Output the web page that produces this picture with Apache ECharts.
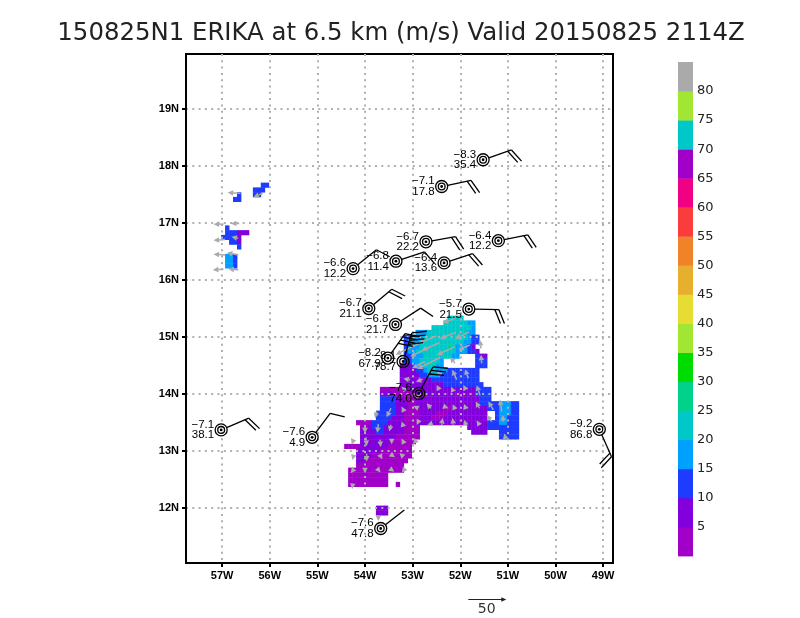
<!DOCTYPE html>
<html>
<head>
<meta charset="utf-8">
<style>
html, body { margin: 0; background: #fff; }
#chart { width: 800px; height: 618px; }
</style>
<script src="https://cdn.jsdelivr.net/npm/echarts@6/dist/echarts.min.js"></script>
</head>
<body>
<div id="chart"></div>
<script>
const titleText = '150825N1 ERIKA at 6.5 km (m/s) Valid 20150825 2114Z';

const lonTicks = [-57, -56, -55, -54, -53, -52, -51, -50, -49];
const latTicks = [12, 13, 14, 15, 16, 17, 18, 19];
const barTicks = [5, 10, 15, 20, 25, 30, 35, 40, 45, 50, 55, 60, 65, 70, 75, 80];

// one colour for each 5 m/s bin, bottom of the colour bar first
const binColors = ['#a000c8', '#8200dc', '#1e3cff', '#00a0ff', '#00c8c8', '#00d28c', '#00dc00', '#a0e632',
	'#e6dc32', '#e6af2d', '#f08228', '#fa3c3c', '#f00082', '#a000c8', '#00c8c8', '#a0e632', '#aaaaaa'];

// wind speed bin per 1/12 degree cell, '.' is no data, digit n is bin n of binColors
const mainLeftLon = -54.4375;
const mainTopLat = 15.375;
const mainRows = [
	'..........................5555',
	'.........................55555544',
	'......................55555555554',
	'..................444555555555544',
	'...............3344455555555555433',
	'...............3444555555555554433',
	'...............344455555556544432',
	'...............3445555555555444332',
	'...............33444555555544....322',
	'...............3344555554........333',
	'..............22234455544........333',
	'..............222233455444' + '33333333',
	'..............222223344433' + '33333333',
	'..............222222223333' + '33333333',
	'..............222222222223' + '333333333',
	'.........111111222222222222222222' + '3333',
	'.........222111111222222222222222' + '3333',
	'.........333322111222222222222222' + '2333',
	'.........333322211222222222222222' + '2333334' + '4433',
	'.........333322211122222211222222' + '2223334' + '4433',
	'........33333221111222211122222' + '22222..34' + '4433',
	'........33332221111222111222222' + '22222..34' + '4333',
	'...1111333322221112222222222' + '22222222' + '33344333',
	'....112333222221111.' + '..........' + '.222223333' + '3333',
	'....222233222221111.' + '..........' + '..2222...3' + '3333',
	'....222222222111111.' + '..........' + '.........3' + '3333',
	'....22222222111111',
	'11112222222111111',
	'...22222211111111',
	'...22221111111111',
	'...2211111111111',
	'...111111111111',
	'.11111111111111',
	'.1111111111',
	'.1111111111',
	'.1111111111..1',
	'', '', '', '',
	'........222',
	'........222'
];

const westLeftLon = -54.4375 - 31 / 12;
const westTopLat = 15.375 + 28 / 12;
const westRows = [
	'..........33',
	'........333.',
	'....3...33..',
	'...33.......',
	'', '', '', '', '',
	'.3..........',
	'.333222.....',
	'33332.......',
	'..332.......',
	'....3.......',
	'',
	'.443........',
	'.443........',
	'.443........'
];

// lon, lat of the tail, then u, v in m/s
const windVectors = [
	[-54.26, 12.40, -0.5, -5], [-54.245, 12.67, -3.5, -4.4], [-54.0, 12.655, 0, -3.5], [-53.72, 12.67, 3, -3.5],
	[-53.44, 12.67, 3.5, -2.6], [-53.195, 12.655, -2, -2.6],
	[-54.245, 12.90, -1.3, -4.4], [-53.965, 12.95, 0, -10], [-53.685, 12.93, 3, -5.7], [-53.44, 12.93, 4.4, -3], [-53.195, 12.90, -5, 5],
	[-54.245, 13.19, -2.2, -5.7], [-53.98, 13.24, 1, -11.4], [-53.685, 13.2, 1, -9.6], [-53.44, 13.19, 0, -5.3], [-53.195, 13.16, -2.2, 4.4], [-52.915, 13.19, -5, -5],
	[-51.04, 13.19, -2.2, 8.8],
	[-54.0, 13.46, 0, -11], [-53.72, 13.47, -1.3, -11.4], [-53.455, 13.46, -2.2, -8.8], [-53.195, 13.43, -2.2, 6.6], [-52.88, 13.515, -2.2, -4.4],
	[-52.6, 13.485, -5.7, -2.2], [-52.39, 13.46, 1.3, 8.8], [-52.145, 13.46, -1, 8.8], [-51.885, 13.46, -1.8, 6.6], [-51.6, 13.46, -3.5, 5.7],
	[-51.34, 13.515, -6.6, 8.8], [-51.095, 13.515, -1, 8.8],
	[-53.755, 13.69, -2, -8.8], [-53.455, 13.75, -5.7, -11.8], [-53.195, 13.72, -2.2, 4.4], [-52.88, 13.75, -6.6, 3], [-52.615, 13.75, -5.7, 6.6],
	[-52.34, 13.78, 5.7, -2.2], [-52.11, 13.73, -3, 6.6], [-51.885, 13.75, -2.2, 5.7], [-51.6, 13.75, -4.4, 8.8], [-51.305, 13.72, -6.6, 11], [-51.13, 13.69, -2.2, 16],
	[-52.46, 14.10, -2.2, 4.4], [-52.145, 14.04, -3, 6.6], [-51.9, 14.10, -2.2, 4.4], [-51.585, 13.98, -4.4, 13], [-53.195, 14.10, -2.2, 2.2], [-52.88, 13.95, -5.3, 3.5],
	[-53.055, 14.25, -8.8, 1.3], [-52.79, 14.26, -8.8, -3.5], [-52.39, 14.32, -6.6, 5.7], [-52.075, 14.25, -5.7, 13], [-51.83, 14.275, -4.4, 12],
	[-52.425, 14.64, -30, -15], [-52.11, 14.54, -6.6, 8], [-51.55, 14.54, -1, 11], [-52.74, 14.57, -17, -9],
	[-52.11, 14.83, -24, -11], [-51.8, 14.86, -15, -6.6], [-52.635, 14.82, -26, -12],
	[-51.81, 15.09, -19, -9], [-52.09, 15.08, -21, -8], [-52.44, 14.90, -23, -10], [-52.495, 15.02, -24, -10], [-52.86, 14.89, -31, -15], [-51.565, 14.80, -1.3, 11],
	[-52.11, 15.33, -16, -6.6],
	[-56.61, 17.52, -17, 1], [-56.15, 17.52, -12, -5], [-56.97, 16.98, -13, 0], [-56.64, 16.99, -11, 0], [-56.94, 16.71, -15, -1], [-56.66, 16.73, -9, 2],
	[-56.94, 16.44, -15, 1], [-56.66, 16.44, -15, 3], [-56.97, 16.19, -14, -1], [-56.66, 16.18, -13, 1],
	[-53.72, 11.85, 0, -6]
];

const stormLons = [-51.52, -52.39, -52.72, -51.20, -54.25, -53.35, -52.34, -53.92, -53.36, -51.82, -53.52, -53.20, -52.87, -57.02, -55.11, -53.67, -49.08];
const stormLats = [18.11, 17.64, 16.67, 16.69, 16.20, 16.33, 16.30, 15.50, 15.22, 15.49, 14.63, 14.57, 14.01, 13.37, 13.24, 11.64, 13.38];
const stormTops = ['8.3', '7.1', '6.7', '6.4', '6.6', '6.8', '6.4', '6.7', '6.8', '5.7', '8.2', '8.1', '7.6', '7.1', '7.6', '7.6', '9.2'];
const stormBottoms = ['35.4', '17.8', '22.2', '12.2', '12.2', '11.4', '13.6', '21.1', '21.7', '21.5', '67.9', '78.7', '74.0', '38.1', '4.9', '47.8', '86.8'];
const staffDirs = [71, 78, 80, 79, 51, 72, 72, 50, 57, 91, 35, 17, 28, 67, 37, 52, 156];
const featherCounts = [2, 2, 2, 2, 1, 1, 2, 2, 1, 2, 4, 4, 3, 2, 1, 0, 2];

const lonMin = -57.758, lonMax = -48.793;
const latMin = 11.035, latMax = 19.965;
const vectorScale = 0.76; // pixels per m/s, 50 m/s is the key arrow

function cellsFrom(rows, leftLon, topLat) {
	const cells = [];
	rows.forEach((row, r) => {
		for (let c = 0; c < row.length; c++) {
			if (row[c] !== '.') cells.push([leftLon + c / 12, topLat - r / 12, +row[c] - 1]);
		}
	});
	return cells;
}

function renderCell(params, api) {
	const p = api.coord([api.value(0), api.value(1)]);
	const s = api.size([1 / 12, 1 / 12]);
	return {
		type: 'rect',
		shape: { x: p[0], y: p[1], width: s[0] + 0.4, height: s[1] + 0.4 },
		style: { fill: binColors[api.value(2)] }
	};
}

function renderVector(params, api) {
	const p = api.coord([api.value(0), api.value(1)]);
	const dx = api.value(2) * vectorScale;
	const dy = -api.value(3) * vectorScale;
	const len = Math.sqrt(dx * dx + dy * dy) || 1;
	const ux = dx / len, uy = dy / len;
	// the head keeps its size, short vectors are nearly all head
	const tip = [p[0] + dx, p[1] + dy];
	const back = [tip[0] - ux * 5.5, tip[1] - uy * 5.5];
	const kids = [{
		type: 'polygon',
		shape: { points: [tip, [back[0] - uy * 2.8, back[1] + ux * 2.8], [back[0] + uy * 2.8, back[1] - ux * 2.8]] },
		style: { fill: '#aaaaaa' }
	}];
	if (len > 5.5) {
		kids.push({ type: 'line', shape: { x1: p[0], y1: p[1], x2: back[0], y2: back[1] }, style: { stroke: '#aaaaaa', lineWidth: 1.5 } });
	}
	return { type: 'group', children: kids };
}

function renderStorm(params, api) {
	const i = params.dataIndex;
	const p = api.coord([api.value(0), api.value(1)]);
	const a = staffDirs[i] * Math.PI / 180;
	const sx = Math.sin(a), sy = -Math.cos(a);
	const fa = a + 67 * Math.PI / 180;
	const fx = Math.sin(fa), fy = -Math.cos(fa);
	const black = { stroke: '#000', fill: 'none', lineWidth: 1.3 };
	const kids = [
		{ type: 'circle', shape: { cx: p[0], cy: p[1], r: 6 }, style: black },
		{ type: 'circle', shape: { cx: p[0], cy: p[1], r: 3.4 }, style: black },
		{ type: 'circle', shape: { cx: p[0], cy: p[1], r: 1.4 }, style: { fill: '#000' } },
		{ type: 'line', shape: { x1: p[0] + sx * 6, y1: p[1] + sy * 6, x2: p[0] + sx * 30, y2: p[1] + sy * 30 }, style: black }
	];
	for (let n = 0; n < featherCounts[i]; n++) {
		const bx = p[0] + sx * (30 - n * 4), by = p[1] + sy * (30 - n * 4);
		kids.push({ type: 'line', shape: { x1: bx, y1: by, x2: bx + fx * 15, y2: by + fy * 15 }, style: black });
	}
	const labelFont = '11.5px "Liberation Sans"';
	kids.push({ type: 'text', style: { text: '\u2212' + stormTops[i], x: p[0] - 7, y: p[1] - 5.3, align: 'right', verticalAlign: 'middle', font: labelFont, fill: '#000' } });
	kids.push({ type: 'text', style: { text: stormBottoms[i], x: p[0] - 7, y: p[1] + 5.3, align: 'right', verticalAlign: 'middle', font: labelFont, fill: '#000' } });
	return { type: 'group', children: kids };
}

function renderBin(params, api) {
	const lo = api.coord([0, api.value(0)]);
	const hi = api.coord([1, api.value(0) + 5]);
	return {
		type: 'rect',
		shape: { x: lo[0], y: hi[1], width: hi[0] - lo[0], height: lo[1] - hi[1] + 0.4 },
		style: { fill: binColors[params.dataIndex] }
	};
}

const dotted = { color: '#b0b0b0', width: 2, type: [2, 4.3] };
const tickFont = { fontFamily: 'Liberation Sans', fontWeight: 'bold', fontSize: 11, color: '#000' };

const chart = echarts.init(document.getElementById('chart'), null, { renderer: 'canvas' });
chart.setOption({
	animation: false,
	backgroundColor: '#fff',
	title: {
		text: titleText,
		left: 396,
		textAlign: 'center',
		top: 17,
		textStyle: { fontFamily: 'DejaVu Sans', fontWeight: 'normal', fontSize: 24.4, color: '#222' }
	},
	grid: [
		{ left: 186, right: 187, top: 54, bottom: 55, show: true, borderColor: '#000', borderWidth: 2, backgroundColor: '#fff' },
		{ left: 678, right: 107, top: 62, bottom: 62 }
	],
	xAxis: [
		{
			type: 'value', gridIndex: 0, min: lonMin, max: lonMax, z: 3,
			axisLine: { lineStyle: { color: '#000', width: 2 } },
			axisTick: { show: true, length: 4, customValues: lonTicks, lineStyle: { color: '#000', width: 2 } },
			axisLabel: { customValues: lonTicks, margin: 7, formatter: (v) => -v + 'W', ...tickFont },
			splitLine: { show: true, lineStyle: dotted }
		},
		{ type: 'value', gridIndex: 1, min: 0, max: 1, show: false }
	],
	yAxis: [
		{
			type: 'value', gridIndex: 0, min: latMin, max: latMax, z: 3,
			axisLine: { lineStyle: { color: '#000', width: 2 } },
			axisTick: { show: true, length: 4, customValues: latTicks, lineStyle: { color: '#000', width: 2 } },
			axisLabel: { customValues: latTicks, margin: 7, formatter: (v) => v + 'N', ...tickFont },
			splitLine: { show: true, lineStyle: dotted }
		},
		{
			type: 'value', gridIndex: 1, min: 0, max: 85, position: 'right',
			axisLine: { show: false },
			axisTick: { show: false },
			splitLine: { show: false },
			axisLabel: {
				customValues: barTicks, margin: 4,
				fontFamily: 'DejaVu Sans', fontSize: 13, color: '#222'
			}
		}
	],
	series: [
		{
			type: 'custom', coordinateSystem: 'cartesian2d', xAxisIndex: 0, yAxisIndex: 0, z: 1, clip: true,
			data: cellsFrom(mainRows, mainLeftLon, mainTopLat).concat(cellsFrom(westRows, westLeftLon, westTopLat)),
			encode: { x: 0, y: 1 },
			renderItem: renderCell
		},
		{
			type: 'custom', coordinateSystem: 'cartesian2d', xAxisIndex: 0, yAxisIndex: 0, z: 4,
			data: windVectors,
			encode: { x: 0, y: 1 },
			renderItem: renderVector
		},
		{
			type: 'custom', coordinateSystem: 'cartesian2d', xAxisIndex: 0, yAxisIndex: 0, z: 5,
			data: stormLons.map((lon, i) => [lon, stormLats[i]]),
			encode: { x: 0, y: 1 },
			renderItem: renderStorm
		},
		{
			type: 'custom', coordinateSystem: 'cartesian2d', xAxisIndex: 1, yAxisIndex: 1,
			data: binColors.map((c, i) => [i * 5]),
			encode: { y: 0 },
			renderItem: renderBin
		}
	],
	graphic: [
		{ type: 'line', shape: { x1: 468.3, y1: 599.5, x2: 468.3 + vectorScale * 50 - 3, y2: 599.5 }, style: { stroke: '#222', lineWidth: 1 } },
		{ type: 'polygon', shape: { points: [[468.3 + vectorScale * 50, 599.5], [468.3 + vectorScale * 50 - 5, 597.3], [468.3 + vectorScale * 50 - 5, 601.7]] }, style: { fill: '#222' } },
		{ type: 'text', style: { text: '50', x: 486.7, y: 609.5, align: 'center', verticalAlign: 'middle', font: '14px "DejaVu Sans"', fill: '#333' } }
	]
});
</script>
</body>
</html>
